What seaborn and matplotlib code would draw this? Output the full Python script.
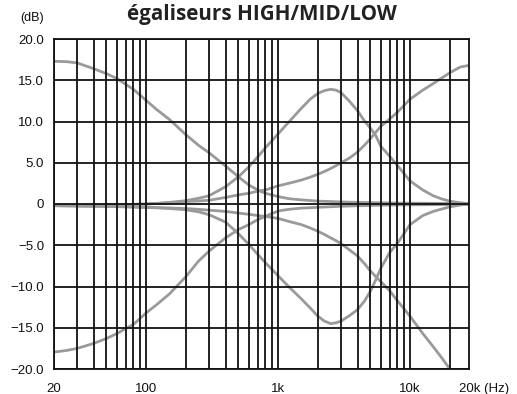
import matplotlib
matplotlib.use("Agg")
import matplotlib.pyplot as plt
import numpy as np
import pandas as pd
import seaborn as sns

# Frequencies (Hz) at which each response curve is sampled
freqs = [20, 25, 30, 40, 50, 60, 70, 80, 100, 120, 150, 200, 250, 300, 400,
         500, 600, 700, 800, 1000, 1200, 1500, 1750, 2000, 2250, 2500, 2750,
         3000, 3500, 4000, 4500, 5000, 5500, 6000, 7000, 8000, 10000, 12500,
         15000, 17500, 20000, 24000, 28000]

# Gain (dB) of each EQ band at maximum boost / maximum cut
low_boost = [17.3, 17.25, 17.1, 16.4, 15.8, 15.2, 14.5, 13.9, 12.55, 11.45, 10.25,
             8.4, 7.1, 6.2, 4.6, 3.3, 2.3, 1.7, 1.3, 0.9, 0.65, 0.5, 0.42, 0.35,
             0.32, 0.3, 0.27, 0.25, 0.22, 0.2, 0.18, 0.17, 0.16, 0.15, 0.14,
             0.12, 0.1, 0.09, 0.08, 0.07, 0.06, 0.05, 0.05]
low_cut = [-17.95, -17.75, -17.5, -16.9, -16.3, -15.7, -15.1, -14.6, -13.2, -12.2,
           -10.9, -8.8, -6.9, -5.7, -4.1, -3.1, -2.5, -1.9, -1.5, -0.85, -0.65,
           -0.5, -0.45, -0.4, -0.36, -0.33, -0.3, -0.28, -0.24, -0.21, -0.2,
           -0.18, -0.16, -0.15, -0.13, -0.12, -0.1, -0.09, -0.08, -0.07, -0.06,
           -0.05, -0.05]
mid_boost = [-0.2, -0.2, -0.2, -0.2, -0.15, -0.12, -0.1, -0.05, 0.0, 0.08, 0.2,
             0.4, 0.7, 1.0, 2.1, 3.3, 4.5, 5.7, 6.8, 8.5, 9.9, 11.6, 12.7, 13.4,
             13.75, 13.9, 13.8, 13.5, 12.4, 11.3, 10.1, 9.2, 8.3, 7.0, 5.8, 4.7,
             2.8, 1.7, 1.0, 0.6, 0.35, 0.15, 0.05]
mid_cut = [-0.2, -0.22, -0.25, -0.28, -0.3, -0.32, -0.35, -0.38, -0.42, -0.46,
           -0.55, -0.7, -0.95, -1.3, -2.2, -3.6, -4.9, -6.1, -7.1, -8.7, -10.0,
           -11.5, -12.6, -13.6, -14.2, -14.5, -14.4, -14.2, -13.5, -12.8, -11.8,
           -10.6, -9.2, -7.8, -5.9, -4.8, -2.5, -1.4, -0.9, -0.6, -0.35, -0.12,
           0.0]
high_boost = [-0.2, -0.2, -0.18, -0.15, -0.12, -0.1, -0.07, -0.05, 0.0, 0.05,
              0.15, 0.3, 0.37, 0.45, 0.8, 1.1, 1.3, 1.55, 1.7, 2.2, 2.5, 2.9,
              3.25, 3.6, 3.95, 4.3, 4.65, 5.0, 5.6, 6.3, 7.1, 7.9, 8.7, 9.4,
              10.3, 11.1, 12.7, 13.8, 14.6, 15.3, 15.9, 16.6, 16.8]
high_cut = [-0.2, -0.22, -0.24, -0.26, -0.28, -0.3, -0.32, -0.35, -0.4, -0.43,
            -0.48, -0.55, -0.65, -0.75, -0.9, -1.1, -1.25, -1.4, -1.5, -1.75,
            -2.1, -2.5, -2.9, -3.3, -3.7, -4.1, -4.45, -4.8, -5.6, -6.3, -7.2,
            -8.1, -8.8, -9.4, -10.5, -11.7, -13.6, -15.7, -17.3, -18.7, -20.0,
            -21.8, -23.0]

curves = {
    "LOW +": low_boost, "LOW -": low_cut,
    "MID +": mid_boost, "MID -": mid_cut,
    "HIGH +": high_boost, "HIGH -": high_cut,
}

# Axis tick values and labels
y_ticks = [-20, -15, -10, -5, 0, 5, 10, 15, 20]
y_labels = ["\u221220.0", "\u221215.0", "\u221210.0", "\u22125.0", "0",
            "5.0", "10.0", "15.0", "20.0"]
x_major = [20, 100, 1000, 10000]
x_labels = ["20", "100", "1k", "10k"]
x_minor = [30, 40, 50, 60, 70, 80, 90, 200, 300, 400, 500, 600, 700, 800, 900,
           2000, 3000, 4000, 5000, 6000, 7000, 8000, 9000, 20000]
x_min, x_max = 20, 28000

df = pd.concat(
    [pd.DataFrame({"freq": freqs, "gain": g, "curve": name}) for name, g in curves.items()],
    ignore_index=True,
)

sns.set_theme(style="white")
plt.rcParams["font.family"] = ["Liberation Sans", "DejaVu Sans"]

fig = plt.figure(figsize=(5.17, 3.94), dpi=100)
ax = fig.add_axes([54 / 517, 1 - 369 / 394, 415 / 517, 330 / 394])

gray = "#9a9a9a"
sns.lineplot(data=df, x="freq", y="gain", hue="curve", units="curve",
             estimator=None, sort=False, palette=[gray] * len(curves),
             linewidth=2.0, legend=False, ax=ax)

ax.set_xscale("log")
ax.set_xlim(x_min, x_max)
ax.set_ylim(-20, 20)
ax.set_xticks(x_major)
ax.set_xticklabels(x_labels)
ax.set_xticks(x_minor, minor=True)
ax.set_xticklabels([], minor=True)
ax.set_yticks(y_ticks)
ax.set_yticklabels(y_labels)
ax.set_xlabel("")
ax.set_ylabel("")

ax.grid(True, which="both", axis="both", color="#111111", linewidth=1.3)
ax.set_axisbelow(False)
for sp in ax.spines.values():
    sp.set_color("#111111")
    sp.set_linewidth(1.3)

ax.tick_params(axis="both", which="both", length=0, labelsize=9.5, colors="#111111")
ax.tick_params(axis="y", pad=7)
ax.tick_params(axis="x", pad=10)

# Right-edge frequency label with unit
ax.annotate("20k (Hz)", xy=(1.0, 0.0), xycoords="axes fraction",
            xytext=(-7, -10), textcoords="offset points",
            ha="left", va="top", fontsize=9.5, color="#111111")

# Unit label for the gain axis
fig.text(20 / 517, 1 - 17.5 / 394, "(dB)", ha="left", va="center",
         fontsize=9, color="#111111")

ax.set_title("égaliseurs HIGH/MID/LOW", fontsize=14.9, fontweight="bold",
             family=["Open Sans", "DejaVu Sans"], color="#222222", pad=13.5)

fig.savefig("out.png", dpi=100)
